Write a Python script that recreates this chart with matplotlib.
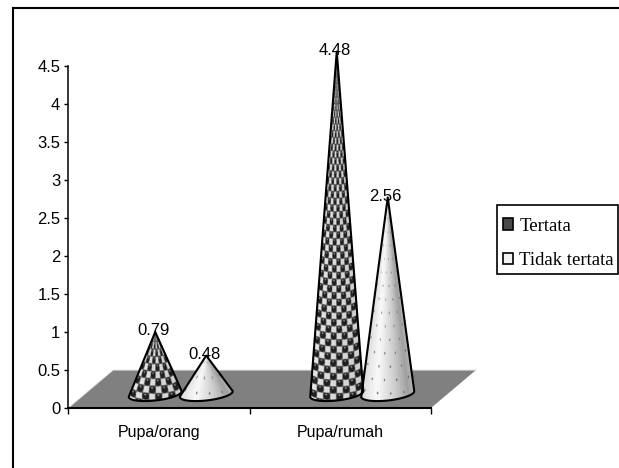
import numpy as np
import matplotlib
matplotlib.use("Agg")
from matplotlib import pyplot as plt
from matplotlib.patches import Polygon, Patch, Rectangle
from matplotlib.lines import Line2D

categories = ["Pupa/orang", "Pupa/rumah"]
tertata = [0.79, 4.48]
tidak_tertata = [0.48, 2.56]
y_ticks = [0, 0.5, 1, 1.5, 2, 2.5, 3, 3.5, 4, 4.5]
y_tick_labels = ["0", "0.5", "1", "1.5", "2", "2.5", "3", "3.5", "4", "4.5"]
legend_labels = ["Tertata", "Tidak tertata"]

W, H = 619, 468
PX_X = 181.5  # px per category
PX_Y = 76.0   # px per value unit


def ball_texture(u, py):
    # checker of light squares and dark balls, wrapped round the cone
    col = (u + 1) * 4.0
    row = py / 6.6
    cx = col - np.floor(col) - 0.5
    cy = row - np.floor(row) - 0.5
    odd = (np.floor(col) + np.floor(row)) % 2 == 1
    light = odd & (np.abs(cx) < 0.44) & (np.abs(cy) < 0.44)
    g = np.where(light, 0.9, 0.36)
    ball = (cx**2 + cy**2 < 0.25) & ~odd
    g = np.where(ball, 0.13, g)
    shine = ((cx + 0.05)**2 + (cy - 0.25)**2 < 0.02) & ~odd
    g = np.where(shine, 0.62, g)
    return g * (1.0 - 0.1 * (u + 1) / 2)


def dot_texture(u, py):
    # pale fan strips with small grey dots
    strip = np.round((u + 1) * 9) / 9 - 1
    g = np.interp(strip, [-1, -0.4, 0.3, 0.8, 1], [0.86, 0.98, 0.8, 0.62, 0.72])
    col = (u + 1) * 4.0
    row = py / 13.0
    cx = (col - np.floor(col) - 0.5) * 13
    cy = (row - np.floor(row) - 0.5) * 13
    dots = (cx**2 + cy**2 < 1.6) & ((np.floor(col) + np.floor(row)) % 2 == 0)
    return np.where(dots, 0.38, g)


def draw_cone(ax, xc, value, base, half_w, minor, tilt, texture):
    # xc, value and base in data units; half_w, minor and tilt in pixels
    hw = half_w / PX_X
    mn = minor / PX_Y
    tl = tilt / PX_Y
    mid = base - 2 / PX_Y
    theta = np.linspace(2 * np.pi, np.pi, 40)
    xs = [xc] + list(xc + hw * np.cos(theta)) + [xc]
    ys = [base + value] + list(mid + mn * np.sin(theta) + tl * np.cos(theta)) + [base + value]
    outline = Polygon(np.column_stack([xs, ys]), closed=True, facecolor="none",
                      edgecolor="black", linewidth=1.5, zorder=4,
                      joinstyle="round", clip_on=False)

    low = mid - mn - tl
    x_grid = np.linspace(xc - hw, xc + hw, int(half_w * 6))
    y_grid = np.linspace(low, base + value, int((base + value - low) * PX_Y * 3))
    xx, yy = np.meshgrid(x_grid, y_grid)
    t = np.clip((yy - mid) / (base + value - mid), 0, 0.999)
    u = np.clip((xx - xc) / (hw * (1 - t)), -1, 1)
    py = (yy - mid) * PX_Y + minor * np.sqrt(1 - u**2) * (1 - t)
    g = texture(u, py)
    rgb = np.clip(np.dstack([g, g, g]), 0, 1)
    im = ax.imshow(rgb, extent=[x_grid[0], x_grid[-1], y_grid[0], y_grid[-1]],
                   origin="lower", aspect="auto", zorder=3,
                   interpolation="bilinear")
    ax.add_patch(outline)
    im.set_clip_path(outline.get_path(), outline.get_transform())


def main():
    fig = plt.figure(figsize=(W / 100, H / 100), dpi=100)
    fig.patch.set_facecolor("white")

    # outer frame, only left and top are visible in the picture
    fig.add_artist(Line2D([13 / W, 13 / W], [0, 1 - 8 / H], color="black", lw=1.5))
    fig.add_artist(Line2D([13 / W, 1], [1 - 8 / H, 1 - 8 / H], color="black", lw=1.5))

    ax = fig.add_axes([68 / W, 1 - 408 / H, (431 - 68) / W, (408 - 66) / H])
    ax.patch.set_alpha(0)
    sans = "Liberation Sans"

    x = np.arange(len(categories))
    depth_x = 22 / PX_X
    depth_y = 16 / PX_Y
    offset = 25.5 / PX_X

    # floor
    fx = 45 / PX_X
    fy = 38 / PX_Y
    floor = Polygon([(-0.5, 0), (1.5, 0), (1.5 + fx, fy), (-0.5 + fx, fy)],
                    closed=True, facecolor="#808080", edgecolor="none",
                    clip_on=False, zorder=1)
    ax.add_patch(floor)
    ax.plot([-0.5, -0.5 + fx, 1.5 + fx], [0, fy, fy], color="#e8e8e8", lw=0.8,
            clip_on=False, zorder=2)

    for i in x:
        for val, shift, tex in [(tertata[i], -offset, ball_texture),
                                (tidak_tertata[i], offset, dot_texture)]:
            xc = i + depth_x + shift
            draw_cone(ax, xc, val, depth_y, 26.5, 6.5, 2.8, tex)
            ax.annotate(f"{val:.2f}", (xc, val + depth_y), xytext=(-1.5, 1),
                        textcoords="offset points", ha="center", va="center",
                        fontsize=12, family=sans, zorder=6, annotation_clip=False)

    ax.set_xlim(-0.5, 1.5)
    ax.set_ylim(0, 4.5)
    for s in ["top", "right"]:
        ax.spines[s].set_visible(False)
    ax.spines["left"].set_linewidth(1.1)
    ax.spines["bottom"].set_linewidth(1.5)
    ax.spines["bottom"].set_zorder(5)

    ax.set_yticks(y_ticks)
    ax.set_yticklabels(y_tick_labels, family=sans, fontsize=12)
    ax.set_xticks([-0.5, 0.5, 1.5])
    ax.set_xticklabels([])
    ax.set_xticks(x, minor=True)
    ax.set_xticklabels(categories, minor=True, family=sans, fontsize=11.5)
    ax.tick_params(axis="x", which="minor", length=0, pad=12.5)
    ax.tick_params(axis="x", which="major", length=4, width=1)
    ax.tick_params(axis="y", length=3, width=1, pad=2.5)

    # legend frame is separate so the rows can sit low in the box like the original
    fig.add_artist(Rectangle((497 / W, 1 - 274 / H), 121 / W, 69 / H,
                             transform=fig.transFigure, facecolor="white",
                             edgecolor="black", linewidth=1.2))
    handles = [Patch(facecolor="#4a4a4a", edgecolor="black", linewidth=1.2),
               Patch(facecolor="#f2f2f2", edgecolor="black", linewidth=1.2)]
    fig.legend(handles, legend_labels, loc="upper left",
               bbox_to_anchor=(497 / W, 1 - 212 / H),
               bbox_transform=fig.transFigure, borderaxespad=0, frameon=False,
               prop={"family": "Liberation Serif", "size": 13.5},
               handlelength=0.55, handleheight=0.55, handletextpad=0.33,
               labelspacing=0.92, borderpad=0.3)

    fig.savefig("out.png", dpi=100)


if __name__ == "__main__":
    main()
